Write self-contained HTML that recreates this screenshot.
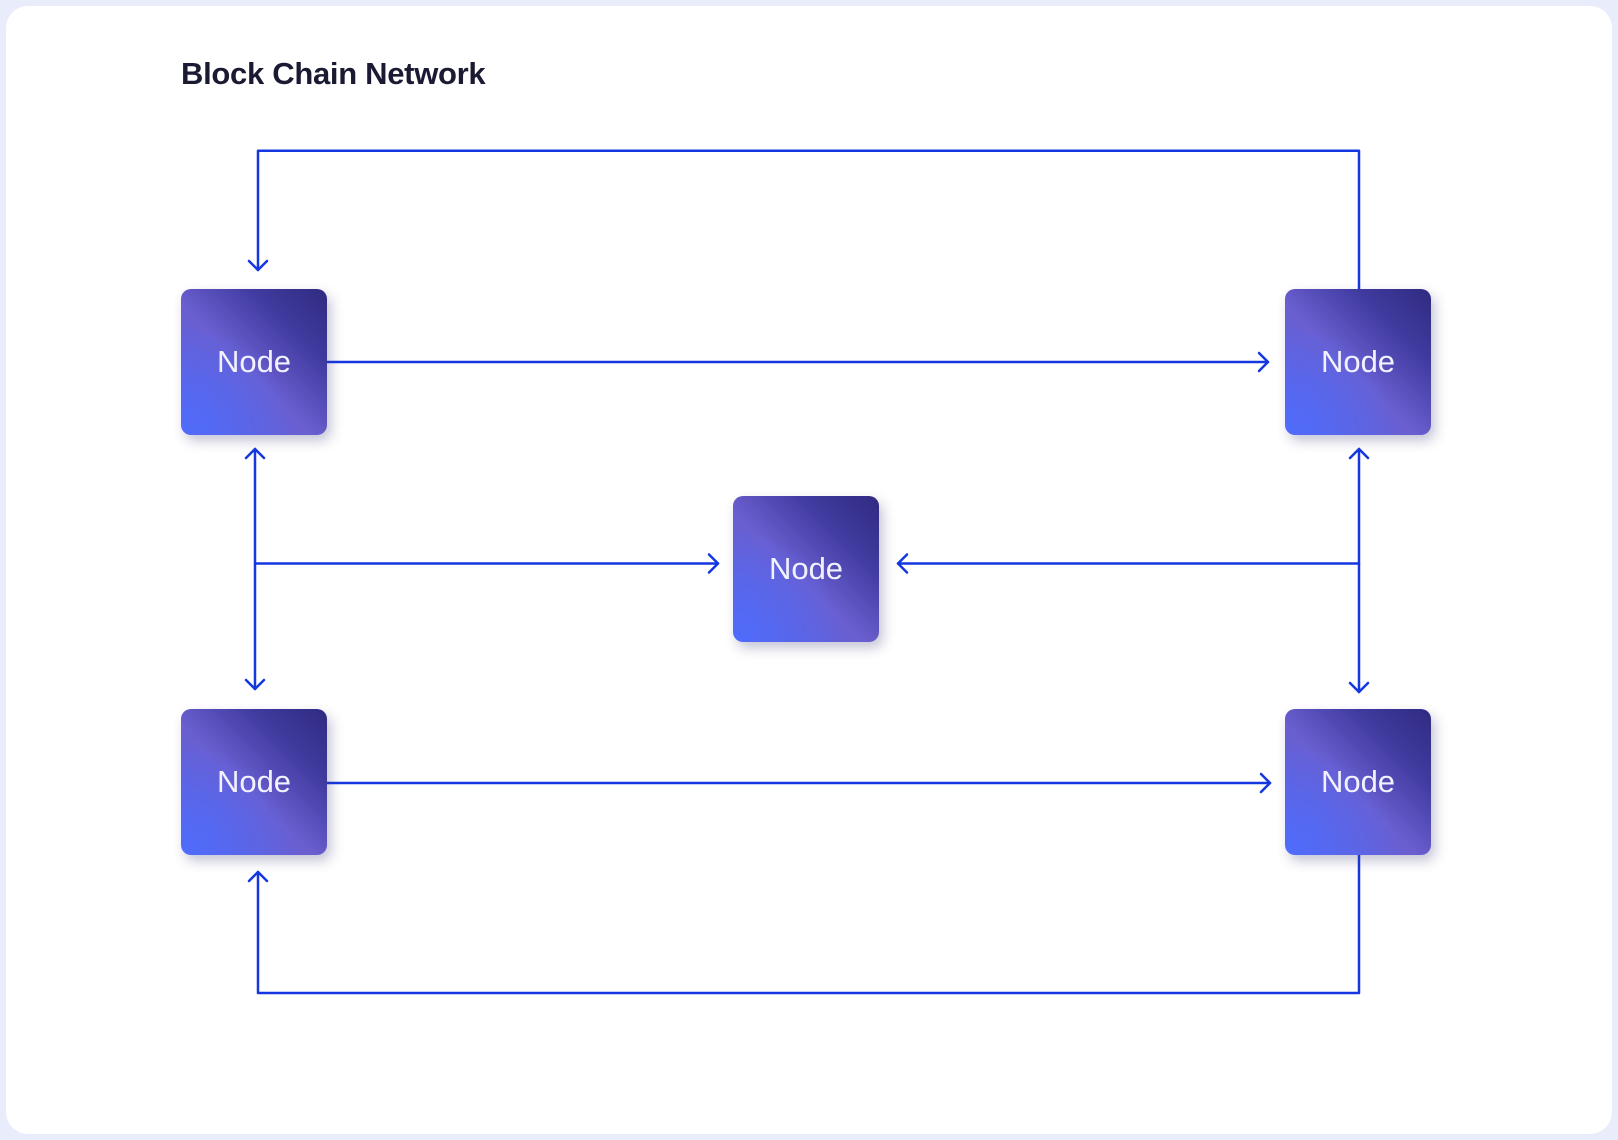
<!DOCTYPE html>
<html><head><meta charset="utf-8"><style>
body{margin:0;width:1618px;height:1140px;background:#e9ecfb;font-family:"Liberation Sans",sans-serif;position:relative;overflow:hidden}
.card{position:absolute;left:6px;top:6px;width:1606px;height:1128px;background:#fff;border-radius:22px}
.t{position:absolute;left:181px;top:56px;font-size:31px;font-weight:bold;color:#1a1a33;letter-spacing:-0.3px}
.n{position:absolute;width:146px;height:146px;border-radius:10px;
background:radial-gradient(circle at 0% 100%,#4f6cfb 0%,rgba(79,108,251,0) 55%),linear-gradient(45deg,#5a63e6 0%,#6a5fd0 45%,#3f3a9e 75%,#302b80 100%);
box-shadow:4px 6px 12px rgba(60,60,120,0.3);color:#f2f2ff;font-size:31px;display:flex;align-items:center;justify-content:center}
svg{position:absolute;left:0;top:0}
</style></head><body>
<div class="card"></div>
<div class="t">Block Chain Network</div>
<svg width="1618" height="1140" fill="none" stroke="#1537e0" stroke-width="2.5" stroke-linecap="round" stroke-linejoin="round">
<path d="M1359 289V150.7H258V270"/><path d="M249 261l9 9 9-9"/>
<path d="M327 362H1268"/><path d="M1259 353l9 9-9 9"/>
<path d="M255 449V689"/><path d="M246 458l9-9 9 9M246 680l9 9 9-9"/>
<path d="M255 563.5H718"/><path d="M709 554.5l9 9-9 9"/>
<path d="M1359 449V692"/><path d="M1350 458l9-9 9 9M1350 683l9 9 9-9"/>
<path d="M1359 563.5H898"/><path d="M907 554.5l-9 9 9 9"/>
<path d="M327 783H1270"/><path d="M1261 774l9 9-9 9"/>
<path d="M1359 855V993H258V872"/><path d="M249 881l9-9 9 9"/>
</svg>
<div class="n" style="left:181px;top:289px">Node</div>
<div class="n" style="left:1285px;top:289px">Node</div>
<div class="n" style="left:733px;top:496px">Node</div>
<div class="n" style="left:181px;top:709px">Node</div>
<div class="n" style="left:1285px;top:709px">Node</div>
</body></html>
